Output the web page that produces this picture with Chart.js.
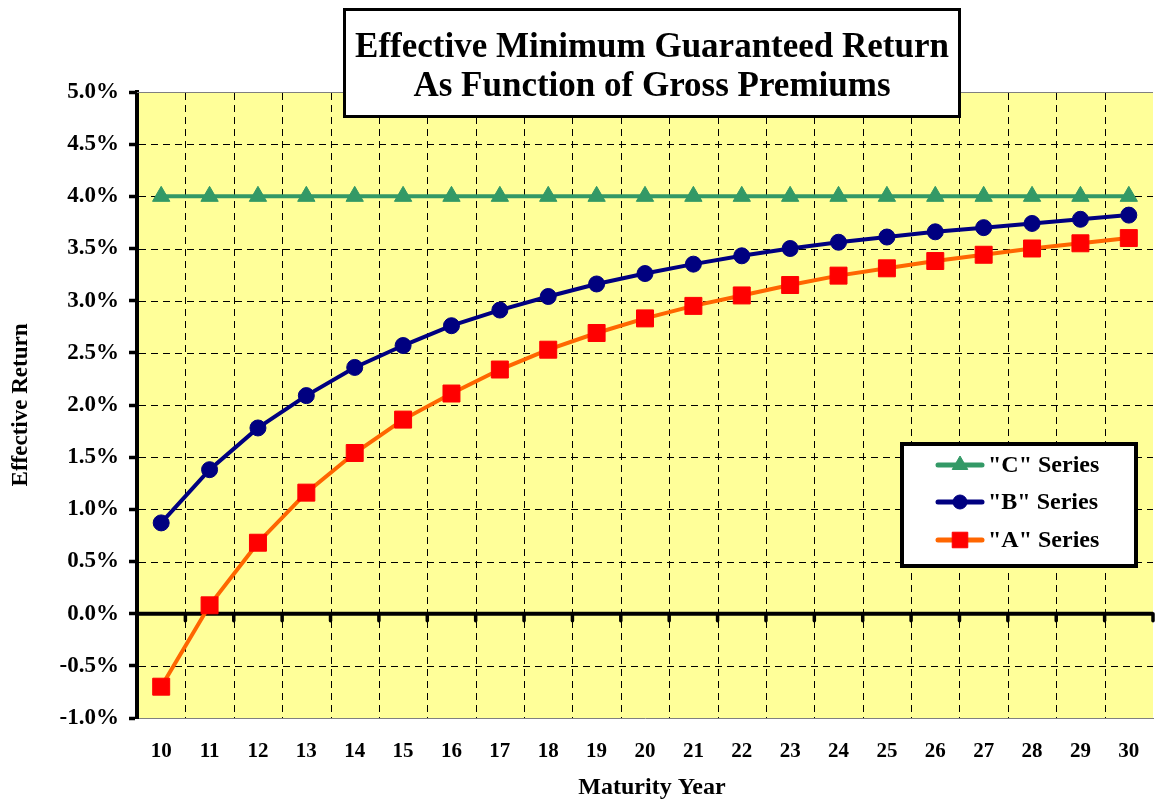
<!DOCTYPE html>
<html>
<head>
<meta charset="utf-8">
<script src="https://cdn.jsdelivr.net/npm/chart.js@4/dist/chart.umd.min.js"></script>
<style>
html,body{margin:0;padding:0;background:#fff;}
#wrap{width:1166px;height:800px;position:relative;}
</style>
</head>
<body>
<div id="wrap"><canvas id="c" width="1166" height="800"></canvas></div>
<script>
const years = [10,11,12,13,14,15,16,17,18,19,20,21,22,23,24,25,26,27,28,29,30];
const seriesC = [4.0,4.0,4.0,4.0,4.0,4.0,4.0,4.0,4.0,4.0,4.0,4.0,4.0,4.0,4.0,4.0,4.0,4.0,4.0,4.0,4.0];
const seriesB = [0.87,1.38,1.78,2.09,2.36,2.57,2.76,2.91,3.04,3.16,3.26,3.35,3.43,3.50,3.56,3.61,3.66,3.70,3.74,3.78,3.82];
const seriesA = [-0.70,0.08,0.68,1.16,1.54,1.86,2.11,2.34,2.53,2.69,2.83,2.95,3.05,3.15,3.24,3.31,3.38,3.44,3.50,3.55,3.60];
const seriesNames = ['"C" Series','"B" Series','"A" Series'];
const titleLines = ['Effective Minimum Guaranteed Return','As Function of Gross Premiums'];
const xTitle = 'Maturity Year';
const yTitle = 'Effective Return';

const SERIF = '"Liberation Serif","Times New Roman",serif';

const deco = {
  id:'deco',
  beforeDraw(chart){
    const {ctx, chartArea:a} = chart;
    ctx.save();
    ctx.fillStyle = '#FFFF99';
    ctx.fillRect(a.left, a.top, a.right - a.left, a.bottom - a.top);
    ctx.restore();
  },
  beforeDatasetsDraw(chart){
    const {ctx, chartArea:a, scales} = chart;
    const xs = scales.x, ys = scales.y;
    ctx.save();
    ctx.strokeStyle = '#000'; ctx.lineWidth = 1;
    ctx.setLineDash([7,5]);
    ys.ticks.forEach(t => {
      if (t.value === 0 || t.value === 5 || t.value === -1) return;
      const y = Math.round(ys.getPixelForValue(t.value)) + 0.5;
      ctx.beginPath(); ctx.moveTo(a.left + 2, y); ctx.lineTo(a.right, y); ctx.stroke();
    });
    for (let i = 1; i <= years.length; i++) {
      const x = Math.round(xs.getPixelForValue(i - 0.5)) + 0.5;
      if (x > a.right) continue;
      ctx.beginPath(); ctx.moveTo(x, a.top + 1); ctx.lineTo(x, a.bottom); ctx.stroke();
    }
    ctx.setLineDash([]);
    ctx.strokeStyle = '#808080'; ctx.lineWidth = 1;
    ctx.beginPath(); ctx.moveTo(a.left, a.top + 0.5); ctx.lineTo(a.right, a.top + 0.5); ctx.stroke();
    const zy = ys.getPixelForValue(0);
    ctx.strokeStyle = '#000'; ctx.lineWidth = 4;
    ctx.beginPath(); ctx.moveTo(a.left, zy); ctx.lineTo(a.right, zy); ctx.stroke();
    ctx.lineWidth = 3.5; ctx.lineCap = 'round';
    for (let i = 1; i <= years.length; i++) {
      const x = xs.getPixelForValue(i - 0.5);
      if (x > a.right) continue;
      ctx.beginPath(); ctx.moveTo(x, zy); ctx.lineTo(x, zy + 7); ctx.stroke();
    }
    ctx.restore();
  },
  afterDraw(chart){
    const {ctx} = chart;
    ctx.save();
    ctx.fillStyle = '#000';
    ctx.textAlign = 'center'; ctx.textBaseline = 'middle';
    ctx.font = 'bold 24px ' + SERIF;
    ctx.fillText(xTitle, 652, 788);
    ctx.save();
    ctx.translate(21, 405); ctx.rotate(-Math.PI/2);
    ctx.font = 'bold 23px ' + SERIF;
    ctx.fillText(yTitle, 0, 0);
    ctx.restore();
    // title box
    ctx.fillStyle = '#fff';
    ctx.fillRect(343, 8, 618, 110);
    ctx.strokeStyle = '#000'; ctx.lineWidth = 3;
    ctx.strokeRect(344.5, 9.5, 615, 107);
    ctx.fillStyle = '#000';
    ctx.font = 'bold 35px ' + SERIF;
    ctx.fillText(titleLines[0], 652, 48);
    ctx.fillText(titleLines[1], 652, 87);
    // legend box
    const L = 902, T = 444, W = 234, H = 122;
    ctx.fillStyle = '#fff';
    ctx.fillRect(L, T, W, H);
    ctx.strokeStyle = '#000'; ctx.lineWidth = 4;
    ctx.strokeRect(L, T, W, H);
    const rows = [465, 502, 540];
    chart.data.datasets.forEach((ds, i) => {
      const y = rows[i];
      ctx.strokeStyle = ds.borderColor; ctx.lineWidth = 5; ctx.lineCap = 'round';
      ctx.beginPath(); ctx.moveTo(938, y); ctx.lineTo(982, y); ctx.stroke();
      ctx.lineCap = 'butt';
      ctx.fillStyle = ds.pointBackgroundColor;
      ctx.strokeStyle = ds.pointBorderColor;
      ctx.lineWidth = 1;
      Chart.helpers.drawPoint(ctx, {pointStyle: ds.pointStyle, radius: ds.pointRadius - 1, rotation:0, borderWidth:1}, 960, y);
      ctx.fillStyle = '#000';
      ctx.font = 'bold 24px ' + SERIF;
      ctx.textAlign = 'left'; ctx.textBaseline = 'middle';
      ctx.fillText(seriesNames[i], 988, y + 1);
    });
    ctx.restore();
  }
};

new Chart(document.getElementById('c'), {
  type: 'line',
  data: {
    labels: years.map(String),
    datasets: [
      {label: seriesNames[0], data: seriesC, borderColor:'#339966', borderWidth:4,
       pointStyle:'triangle', pointRadius:10, pointBackgroundColor:'#339966', pointBorderColor:'#339966', pointBorderWidth:1, tension:0},
      {label: seriesNames[1], data: seriesB, borderColor:'#000080', borderWidth:4,
       pointStyle:'circle', pointRadius:8, pointBackgroundColor:'#000080', pointBorderColor:'#000080', pointBorderWidth:1, tension:0},
      {label: seriesNames[2], data: seriesA, borderColor:'#FF6600', borderWidth:4,
       pointStyle:'rect', pointRadius:12, pointBackgroundColor:'#FF0000', pointBorderColor:'#FF0000', pointBorderWidth:1, tension:0}
    ]
  },
  options: {
    responsive:false, animation:false, devicePixelRatio:1,
    layout:{padding:{top:92,left:0,right:0,bottom:0}},
    plugins:{legend:{display:false}, title:{display:false}, tooltip:{enabled:false}},
    scales:{
      x:{
        type:'category', offset:true,
        afterFit(s){ s.height = 82; },
        grid:{display:false, offset:true},
        border:{display:true, color:'#808080', width:1},
        ticks:{color:'#000', font:{family:SERIF, size:21, weight:'bold'}, padding:13, maxRotation:0, autoSkip:false}
      },
      y:{
        min:-1, max:5,
        afterFit(s){ s.width = 137; },
        grid:{drawOnChartArea:false, drawTicks:true,
          tickColor:'#000', tickWidth:3.5, tickLength:8},
        border:{display:true, color:'#000', width:4},
        ticks:{stepSize:0.5, color:'#000', padding:10,
          font:{family:SERIF, size:23, weight:'bold'},
          callback:(v)=> Number(v).toFixed(1)+'%'}
      }
    }
  },
  plugins:[deco]
});
</script>
</body>
</html>
